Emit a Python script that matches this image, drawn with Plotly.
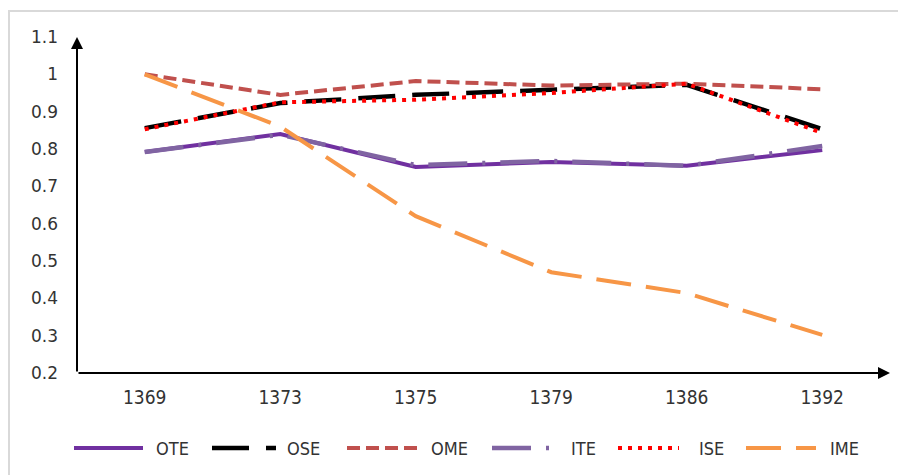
import plotly.graph_objects as go

years = ["1369", "1373", "1375", "1379", "1386", "1392"]
OTE = [0.792, 0.840, 0.752, 0.765, 0.755, 0.797]
OSE = [0.856, 0.923, 0.945, 0.960, 0.972, 0.853]
OME = [1.000, 0.945, 0.982, 0.970, 0.975, 0.960]
ITE = [0.792, 0.838, 0.757, 0.768, 0.755, 0.808]
ISE = [0.853, 0.925, 0.932, 0.950, 0.975, 0.843]
IME = [1.000, 0.860, 0.620, 0.470, 0.414, 0.302]

y_ticks = [0.2, 0.3, 0.4, 0.5, 0.6, 0.7, 0.8, 0.9, 1.0, 1.1]
y_ticktext = ["0.2", "0.3", "0.4", "0.5", "0.6", "0.7", "0.8", "0.9", "1", "1.1"]

# name, values, colour, dash, width
series = [
    ("OTE", OTE, "#7030A0", "solid", 4),
    ("OSE", OSE, "#000000", "37px,17px", 4.5),
    ("OME", OME, "#C0504D", "13px,6px", 4),
    ("ITE", ITE, "#8064A2", "39px,15px,3px,15px", 4.5),
    ("ISE", ISE, "#FF0000", "4px,6px", 4),
    ("IME", IME, "#F79646", "35px,15px", 4),
]

# custom legend layout (screen pixel columns): sample start, sample end, text start
legend_cols = [(74, 143, 154), (212, 276, 285), (347, 417, 429),
               (492, 551, 569), (618, 679, 697), (746, 816, 828)]

L, T, W_PLOT, H_PLOT = 77, 37, 813, 336   # screen coordinates of the plot area


def px_x(sx):
    return (sx - L) / W_PLOT


def px_y(sy):
    return (T + H_PLOT - sy) / H_PLOT


fig = go.Figure()
for name, vals, color, dash, w in series:
    fig.add_trace(go.Scatter(
        x=years, y=vals, name=name, mode="lines",
        line=dict(color=color, dash=dash, width=w),
        showlegend=False,
    ))

shapes = [
    dict(type="line", xref="paper", yref="paper", x0=px_x(9), x1=px_x(9), y0=px_y(10), y1=px_y(480),
         line=dict(color="#D9D9D9", width=2)),
    dict(type="line", xref="paper", yref="paper", x0=px_x(8), x1=px_x(920), y0=px_y(11), y1=px_y(11),
         line=dict(color="#D9D9D9", width=2)),
]
annotations = [
    dict(xref="x domain", yref="y domain", axref="x domain", ayref="y domain",
         x=0, y=1.0, ax=0, ay=0, text="", showarrow=True,
         arrowhead=2, arrowsize=1.2, arrowwidth=2, arrowcolor="black"),
    dict(xref="x domain", yref="y domain", axref="x domain", ayref="y domain",
         x=1.0, y=0, ax=0, ay=0, text="", showarrow=True,
         arrowhead=2, arrowsize=1.2, arrowwidth=2, arrowcolor="black"),
]
leg_y = px_y(448)
for (name, vals, color, dash, w), (s0, s1, tx) in zip(series, legend_cols):
    shapes.append(dict(type="line", xref="paper", yref="paper",
                       x0=px_x(s0), x1=px_x(s1), y0=leg_y, y1=leg_y,
                       line=dict(color=color, dash=dash, width=w)))
    annotations.append(dict(xref="paper", yref="paper", x=px_x(tx), y=leg_y,
                            xanchor="left", yanchor="middle", showarrow=False, text=name,
                            font=dict(family="DejaVu Sans Condensed, DejaVu Sans, sans-serif",
                                      size=18, color="#333333")))

fig.update_layout(
    width=898, height=467,
    margin=dict(l=69, r=16, t=29, b=102),
    plot_bgcolor="white", paper_bgcolor="white",
    showlegend=False,
    xaxis=dict(type="category", range=[-0.5, 5.5], showgrid=False, showline=False,
               zeroline=False, ticks="", ticklabelstandoff=11,
               tickfont=dict(family="DejaVu Sans Condensed, DejaVu Sans, sans-serif", size=19, color="#333333")),
    yaxis=dict(range=[0.2, 1.1], tickvals=y_ticks, ticktext=y_ticktext, showgrid=False,
               showline=False, zeroline=False, ticks="", ticklabelstandoff=18,
               tickfont=dict(family="DejaVu Sans, sans-serif", size=17, color="#333333")),
    shapes=shapes,
    annotations=annotations,
)

fig.write_html("out.html")
